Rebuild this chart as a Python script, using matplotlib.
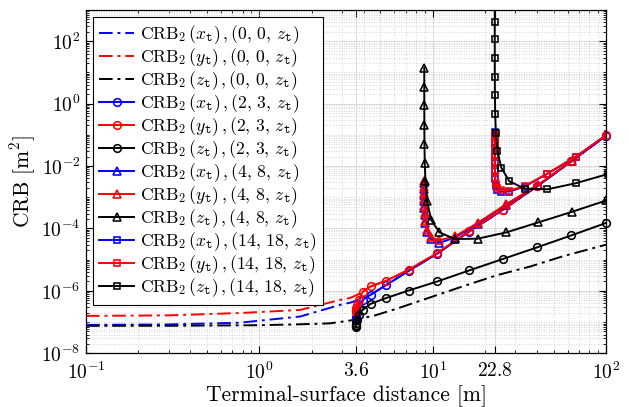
import numpy as np
import matplotlib.pyplot as plt

plt.rcParams['font.family'] = 'serif'
plt.rcParams['font.serif'] = ['cmr10']
plt.rcParams['mathtext.fontset'] = 'cm'
plt.rcParams['axes.unicode_minus'] = False

# ---- data ----
# terminal at (0,0,z_t): dash-dot curves
d_00_xy = [0.1, 0.3, 0.77, 1.72, 2.92, 3.33, 3.93, 4.39, 5.36, 7.25, 10.6, 16.2, 25.4, 40.0, 63.2, 100.0]
crb_x_00 = [8.13e-8, 8.41e-8, 9.55e-8, 1.51e-7, 3.55e-7, 4.17e-7, 5.62e-7, 7.59e-7, 1.51e-6, 4.37e-6,
            1.55e-5, 7.94e-5, 3.89e-4, 2.24e-3, 1.41e-2, 9.33e-2]
crb_y_00 = [1.58e-7, 1.64e-7, 1.95e-7, 2.45e-7, 5.13e-7, 5.89e-7, 8.91e-7, 1.38e-6, 2.09e-6, 4.68e-6,
            1.62e-5, 7.94e-5, 3.98e-4, 2.29e-3, 1.45e-2, 9.55e-2]
d_00_z = [0.1, 0.3, 1.0, 1.72, 2.56, 3.33, 4.55, 6.21, 9.66, 15.0, 23.4, 36.5, 56.5, 100.0]
crb_z_00 = [7.59e-8, 7.62e-8, 7.94e-8, 8.51e-8, 9.12e-8, 1.12e-7, 1.58e-7, 2.69e-7, 6.17e-7, 1.41e-6,
            3.16e-6, 6.03e-6, 1.29e-5, 3.02e-5]

# terminal at (2,3,z_t): circles
d_23 = [3.607, 3.609, 3.614, 3.628, 3.660, 3.742, 3.940, 4.387, 5.370, 7.259, 10.63, 16.21, 25.36,
        39.96, 63.10, 100.0]
crb_x_23 = [1.13e-7, 1.175e-7, 1.265e-7, 1.466e-7, 1.97e-7, 3.07e-7, 5.15e-7, 7.46e-7, 1.51e-6, 4.34e-6,
            1.55e-5, 7.89e-5, 3.93e-4, 2.23e-3, 1.42e-2, 9.35e-2]
crb_y_23 = [2.12e-7, 2.20e-7, 2.37e-7, 2.75e-7, 3.56e-7, 5.15e-7, 9.31e-7, 1.40e-6, 2.10e-6, 4.74e-6,
            1.63e-5, 8.05e-5, 4.01e-4, 2.28e-3, 1.45e-2, 9.55e-2]
crb_z_23 = [7.00e-8, 7.26e-8, 7.82e-8, 9.06e-8, 1.175e-7, 1.70e-7, 2.46e-7, 3.84e-7, 5.85e-7, 1.026e-6,
            2.00e-6, 4.50e-6, 1.047e-5, 2.47e-5, 6.00e-5, 1.50e-4]

# terminal at (4,8,z_t): triangles
d_48 = [8.945, 8.946, 8.948, 8.953, 8.967, 9.000, 9.083, 9.287, 9.787, 10.94, 13.42, 18.16, 26.61,
        40.79, 63.63, 100.4]
crb_x_48 = [2.96e-3, 1.90e-3, 1.22e-3, 7.52e-4, 4.66e-4, 2.77e-4, 1.53e-4, 7.89e-5, 4.53e-5, 3.49e-5,
            5.06e-5, 1.43e-4, 5.81e-4, 2.45e-3, 1.47e-2, 9.70e-2]
crb_y_48 = [3.25e-3, 2.12e-3, 1.36e-3, 8.73e-4, 5.40e-4, 3.21e-4, 1.78e-4, 9.14e-5, 5.25e-5, 4.21e-5,
            5.57e-5, 1.50e-4, 6.03e-4, 2.55e-3, 1.50e-2, 9.91e-2]
crb_z_48 = [14.3, 3.51, 0.879, 0.211, 5.18e-2, 1.27e-2, 3.25e-3, 7.41e-4, 1.91e-4, 7.48e-5,
            4.59e-5, 4.70e-5, 7.48e-5, 1.57e-4, 3.41e-4, 7.92e-4]

# terminal at (14,18,z_t): squares
d_1418 = [22.804, 22.805, 22.805, 22.807, 22.813, 22.826, 22.859, 22.941, 23.149, 23.658, 24.90, 27.69,
          33.91, 45.86, 66.93, 102.57]
crb_x_1418 = [0.119, 8.55e-2, 5.70e-2, 3.66e-2, 2.18e-2, 1.25e-2, 6.92e-3, 3.83e-3, 2.37e-3, 1.76e-3,
              1.52e-3, 1.52e-3, 2.20e-3, 5.62e-3, 1.99e-2, 0.105]
crb_y_1418 = [0.103, 7.66e-2, 5.28e-2, 3.52e-2, 2.18e-2, 1.30e-2, 7.45e-3, 4.28e-3, 2.74e-3, 2.04e-3,
              1.76e-3, 1.64e-3, 2.28e-3, 5.75e-3, 2.02e-2, 0.107]
crb_z_1418 = [6310, 1620, 417, 113.5, 29.1, 7.35, 1.84, 0.462, 0.117, 2.99e-2,
               8.77e-3, 3.25e-3, 1.90e-3, 1.80e-3, 2.81e-3, 5.55e-3]

xtick_vals = [0.1, 1, 3.6, 10, 22.8, 100]
xtick_labels = [r'$10^{-1}$', r'$10^{0}$', r'$3.6$', r'$10^{1}$', r'$22.8$', r'$10^{2}$']
ytick_vals = [1e-8, 1e-6, 1e-4, 1e-2, 1e0, 1e2]
ytick_labels = [r'$10^{-8}$', r'$10^{-6}$', r'$10^{-4}$', r'$10^{-2}$', r'$10^{0}$', r'$10^{2}$']


def lab(c, pos):
    return r'$\mathrm{CRB}_2\,(%s_{\mathtt{t}})\,,(%s,\,z_{\mathtt{t}})$' % (c, pos)


fig = plt.figure(figsize=(6.29, 4.07), dpi=100)
ax = fig.add_axes([86 / 629, 1 - 353.3 / 407, 520 / 629, 343.3 / 407])

dd = (0, (7, 2.5, 1.5, 2.5))
lw = 1.4
ax.plot(d_00_xy, crb_x_00, color='b', lw=lw, ls=dd, label=lab('x', r'0,\,0'))
ax.plot(d_00_xy, crb_y_00, color='r', lw=lw, ls=dd, label=lab('y', r'0,\,0'))
ax.plot(d_00_z, crb_z_00, color='k', lw=lw, ls=dd, label=lab('z', r'0,\,0'))

mk = dict(lw=lw, mfc='none', mew=1.15)
ax.plot(d_23, crb_x_23, color='b', marker='o', ms=5.5, clip_on=False, label=lab('x', r'2,\,3'), **mk)
ax.plot(d_23, crb_y_23, color='r', marker='o', ms=5.5, clip_on=False, label=lab('y', r'2,\,3'), **mk)
ax.plot(d_23, crb_z_23, color='k', marker='o', ms=5.5, clip_on=False, label=lab('z', r'2,\,3'), **mk)

ax.plot(d_48, crb_x_48, color='b', marker='^', ms=6, label=lab('x', r'4,\,8'), **mk)
ax.plot(d_48, crb_y_48, color='r', marker='^', ms=6, label=lab('y', r'4,\,8'), **mk)
ax.plot(d_48, crb_z_48, color='k', marker='^', ms=6, label=lab('z', r'4,\,8'), **mk)

ax.plot(d_1418, crb_x_1418, color='b', marker='s', ms=3.8, label=lab('x', r'14,\,18'), **mk)
ax.plot(d_1418, crb_y_1418, color='r', marker='s', ms=3.8, label=lab('y', r'14,\,18'), **mk)
ax.plot(d_1418, crb_z_1418, color='k', marker='s', ms=3.8, label=lab('z', r'14,\,18'), **mk)

ax.set_xscale('log')
ax.set_yscale('log')
ax.set_xlim(0.1, 100)
ax.set_ylim(1e-8, 1e3)

ax.set_xticks(xtick_vals)
ax.set_xticklabels(xtick_labels)
ax.set_xticks([k * 10.0 ** e for e in (-1, 0, 1) for k in range(2, 10)], minor=True)
ax.set_yticks(ytick_vals)
ax.set_yticklabels(ytick_labels)
ax.set_yticks([k * 10.0 ** e for e in range(-8, 3) for k in range(1, 10)
               if not (k == 1 and e % 2 == 0)] + [1e3], minor=True)
ax.set_yticklabels([], minor=True)
ax.set_xticklabels([], minor=True)

ax.tick_params(which='both', direction='in', top=True, right=True, labelsize=14)
ax.tick_params(axis='x', which='major', pad=6)
ax.tick_params(axis='y', which='major', pad=4)
ax.tick_params(which='major', length=5, width=0.8)
ax.tick_params(which='minor', length=2.5, width=0.6)
ax.set_axisbelow(True)
ax.grid(which='major', color='#dadada', lw=0.7)
ax.grid(which='minor', color='#c8c8c8', lw=0.6, ls=(0, (1, 2)))
for s in ax.spines.values():
    s.set_linewidth(0.9)

ax.set_xlabel('Terminal-surface distance [m]', fontsize=15.5, labelpad=2)
ax.set_ylabel(r'CRB [m$^2$]', fontsize=15.5, labelpad=2)

leg = ax.legend(loc='upper left', bbox_to_anchor=(0.0135, 0.98), fontsize=12.7, labelspacing=0.02,
                handlelength=2.0, handletextpad=0.3, borderpad=0.35, borderaxespad=0.0,
                fancybox=False, framealpha=1, edgecolor='k')
leg.get_frame().set_linewidth(0.8)

fig.savefig('out.png', dpi=100)
